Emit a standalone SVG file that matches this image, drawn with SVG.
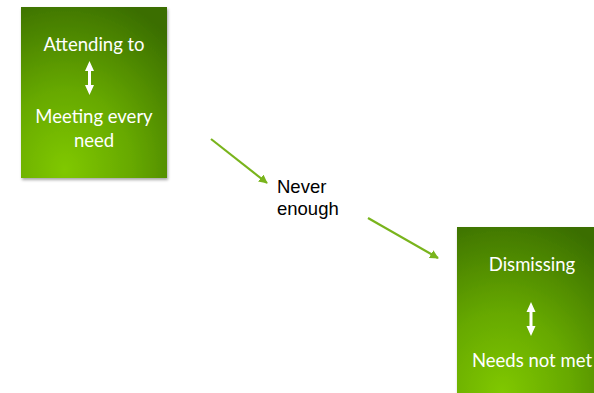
<svg xmlns="http://www.w3.org/2000/svg" width="594" height="393" viewBox="0 0 594 393">
  <defs>
    <radialGradient id="g" cx="0.3" cy="0.95" r="1.05" fx="0.3" fy="0.95">
      <stop offset="0" stop-color="#80c800"/>
      <stop offset="0.45" stop-color="#66a800"/>
      <stop offset="1" stop-color="#3a6e00"/>
    </radialGradient>
    <filter id="sh" x="-10%" y="-10%" width="120%" height="120%">
      <feGaussianBlur in="SourceAlpha" stdDeviation="1.5"/>
      <feOffset dx="1" dy="1.5" result="b"/>
      <feComponentTransfer><feFuncA type="linear" slope="0.35"/></feComponentTransfer>
      <feMerge><feMergeNode/><feMergeNode in="SourceGraphic"/></feMerge>
    </filter>
    <marker id="ah" viewBox="0 0 10 10" refX="9" refY="5" markerWidth="4" markerHeight="4" orient="auto" markerUnits="strokeWidth">
      <path d="M0,0 L10,5 L0,10 Z" fill="#79b41c"/>
    </marker>
    <symbol id="dbl" viewBox="0 0 10 34" overflow="visible">
      <path d="M5,0 L9.5,10 L6.5,10 L6.5,24 L9.5,24 L5,34 L0.5,24 L3.5,24 L3.5,10 L0.5,10 Z" fill="#ffffff"/>
    </symbol>
  </defs>
  <style>
    .box { fill: url(#g); filter: url(#sh); }
    .bt { font-family: Lato, "Open Sans", sans-serif; font-size: 18.5px; fill: #ffffff; text-anchor: middle; }
    .lbl { font-family: "Liberation Sans", Arial, sans-serif; font-size: 18.5px; fill: #000000; }
    .conn { stroke: #79b41c; stroke-width: 2.2; fill: none; marker-end: url(#ah); }
  </style>
  <g id="node-attending">
    <rect class="box" x="21" y="7" width="146" height="171"/>
    <text class="bt" x="94" y="51">Attending to</text>
    <use href="#dbl" x="84.5" y="61" width="10" height="34"/>
    <text class="bt" x="94" y="123">Meeting every</text>
    <text class="bt" x="94" y="147">need</text>
  </g>
  <g id="node-dismissing">
    <rect class="box" x="457" y="227" width="150" height="175"/>
    <text class="bt" x="532" y="271">Dismissing</text>
    <use href="#dbl" x="526" y="302" width="10" height="34"/>
    <text class="bt" x="532" y="367">Needs not met</text>
  </g>
  <g id="label-never">
    <text class="lbl" x="277" y="193">Never</text>
    <text class="lbl" x="277" y="215">enough</text>
  </g>
  <g id="connectors">
    <line class="conn" x1="211" y1="139" x2="267" y2="183"/>
    <line class="conn" x1="368" y1="218" x2="438" y2="258"/>
  </g>
</svg>
